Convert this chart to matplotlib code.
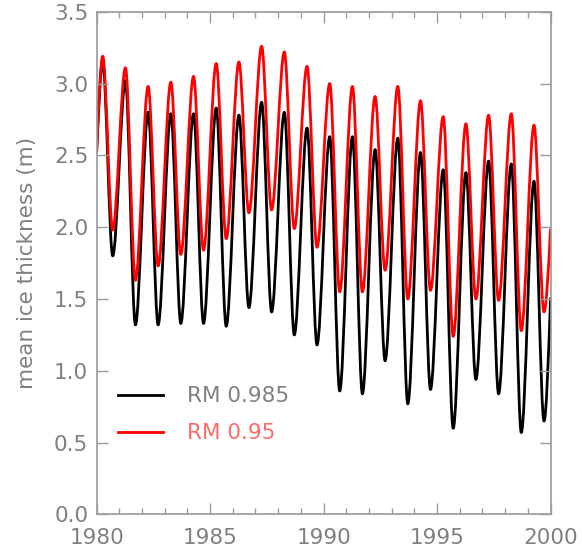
import numpy as np
import matplotlib
matplotlib.use('Agg')
import matplotlib.pyplot as plt
from matplotlib.path import Path
from matplotlib.patches import PathPatch
from matplotlib.lines import Line2D

plt.rcParams['font.family'] = ['DejaVu Sans']

years = np.arange(1980, 2000)
peak_phase = 0.27   # winter maximum, fraction of the year
min_phase = 0.71    # summer minimum

# annual max / min of mean ice thickness (m)
black_max = [3.15, 3.02, 2.80, 2.79, 2.79, 2.83, 2.78, 2.87, 2.80, 2.69,
             2.63, 2.63, 2.54, 2.62, 2.52, 2.40, 2.38, 2.46, 2.44, 2.32]
black_min = [1.80, 1.32, 1.32, 1.33, 1.33, 1.31, 1.44, 1.41, 1.25, 1.18,
             0.86, 0.84, 1.07, 0.77, 0.87, 0.60, 0.94, 0.84, 0.57, 0.65]
red_max = [3.19, 3.11, 2.98, 3.01, 3.05, 3.14, 3.15, 3.26, 3.22, 3.12,
           3.00, 2.98, 2.91, 2.98, 2.88, 2.77, 2.72, 2.78, 2.79, 2.71]
red_min = [1.98, 1.63, 1.73, 1.81, 1.84, 1.92, 2.10, 2.12, 1.99, 1.86,
           1.55, 1.55, 1.70, 1.50, 1.56, 1.24, 1.50, 1.49, 1.28, 1.41]
black_ends = [2.52, 1.51]   # values on 1980.0 and 2000.0
red_ends = [2.52, 1.99]

labels = ['RM 0.985', 'RM 0.95']
colors = ['black', 'red']
text_colors = ['#808080', '#ff6a6a']
axis_grey = '#9a9a9a'


def seasonal_path(vmax, vmin, ends):
    # extrema joined by cubic Bezier pieces with flat tangents at the turning points
    t = [1980.0]
    v = [ends[0]]
    for i, yr in enumerate(years):
        t += [yr + peak_phase, yr + min_phase]
        v += [vmax[i], vmin[i]]
    t.append(2000.0)
    v.append(ends[1])
    verts = [(t[0], v[0])]
    codes = [Path.MOVETO]
    n = len(t)
    for k in range(n - 1):
        dt = t[k + 1] - t[k]
        dv = v[k + 1] - v[k]
        c1 = v[k] + 0.5 * dv if k == 0 else v[k]
        c2 = v[k + 1] - 0.5 * dv if k == n - 2 else v[k + 1]
        verts += [(t[k] + dt / 3, c1), (t[k + 1] - dt / 3, c2), (t[k + 1], v[k + 1])]
        codes += [Path.CURVE4] * 3
    return Path(verts, codes)


fig = plt.figure(figsize=(5.82, 5.58), dpi=100)
ax = fig.add_axes([0.166, 0.078, 0.780, 0.901])

for vmax, vmin, ends, c in [(black_max, black_min, black_ends, colors[0]),
                            (red_max, red_min, red_ends, colors[1])]:
    ax.add_patch(PathPatch(seasonal_path(vmax, vmin, ends), fill=False,
                           edgecolor=c, lw=2.0, capstyle='butt', joinstyle='round'))

ax.set_xlim(1980, 2000)
ax.set_ylim(0, 3.5)
ax.set_xticks(np.arange(1980, 2001, 5))
ax.set_xticks(np.arange(1980, 2001, 1), minor=True)
ax.set_yticks(np.arange(0, 3.51, 0.5))
ax.set_yticklabels(['%.1f' % v for v in np.arange(0, 3.51, 0.5)])
ax.tick_params(which='both', direction='in', top=True, right=True,
               color=axis_grey, labelcolor='#808080', labelsize=15.5, width=1)
ax.tick_params(which='major', length=8)
ax.tick_params(which='minor', length=4)
ax.tick_params(axis='x', pad=10)
ax.tick_params(axis='y', pad=6)
for s in ax.spines.values():
    s.set_color(axis_grey)
    s.set_linewidth(1.2)

ax.set_ylabel('mean ice thickness (m)', color='#808080', fontsize=15.5, labelpad=12)

handles = [Line2D([], [], color=c, lw=2.0) for c in colors]
leg = ax.legend(handles, labels, loc='upper left', bbox_to_anchor=(0.047, 0.255),
                frameon=False, fontsize=15.5, borderaxespad=0, borderpad=0,
                handlelength=2.1, handletextpad=1.1, labelspacing=0.8)
for txt, tc in zip(leg.get_texts(), text_colors):
    txt.set_color(tc)

fig.savefig('out.png', dpi=100)
